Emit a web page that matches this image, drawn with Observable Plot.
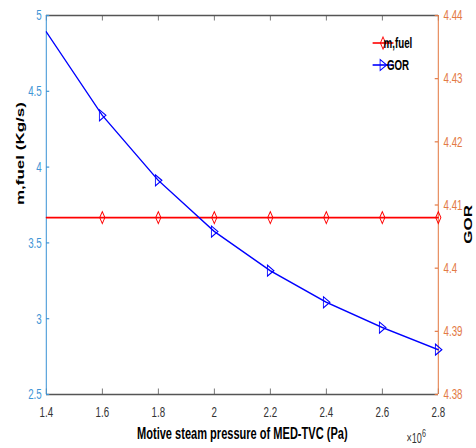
<!DOCTYPE html>
<html>
<head>
<meta charset="utf-8">
<script src="https://cdn.jsdelivr.net/npm/d3@7"></script>
<script src="https://cdn.jsdelivr.net/npm/@observablehq/plot@0.6"></script>
<style>
  html, body { margin: 0; padding: 0; background: #fff; overflow: hidden; }
  #wrap { width: 476px; height: 448px; overflow: hidden; position: relative; }
  #wrap svg { transform-origin: 0 0; display: block; max-width: none !important; }
</style>
</head>
<body>
<div id="wrap"></div>
<script>
// ---- data ----
const pressure = [1.4, 1.6, 1.8, 2.0, 2.2, 2.4, 2.6, 2.8];           // x 10^6 Pa
const mFuel    = [3.667, 3.667, 3.667, 3.667, 3.667, 3.667, 3.667, 3.667]; // left axis
const gor      = [4.4374, 4.4242, 4.4139, 4.4058, 4.3996, 4.3946, 4.3906, 4.3871]; // right axis
const xTicks     = [1.4, 1.6, 1.8, 2.0, 2.2, 2.4, 2.6, 2.8];
const leftTicks  = [2.5, 3, 3.5, 4, 4.5, 5];
const rightTicks = [4.38, 4.39, 4.40, 4.41, 4.42, 4.43, 4.44];
const seriesNames = ["m,fuel", "GOR"];
const xLabel = "Motive steam pressure of MED-TVC (Pa)";
const yLabelLeft = "m,fuel (Kg/s)";
const yLabelRight = "GOR";

// ---- layout ----
const S = 0.6503;              // horizontal compression of the reference
const W = 732, H = 448;
const mL = 70.7, mR = 58.5, mT = 15, mB = 54;
const innerW = W - mL - mR, innerH = H - mT - mB;

const leftDom = [2.5, 5], rightDom = [4.38, 4.44];
const toLeft = g => leftDom[0] + (g - rightDom[0]) * (leftDom[1] - leftDom[0]) / (rightDom[1] - rightDom[0]);
const fromLeft = v => rightDom[0] + (v - leftDom[0]) * (rightDom[1] - rightDom[0]) / (leftDom[1] - leftDom[0]);

const RED = "#FF0000", BLUE = "#0000FF";
const AX_BLUE = "#3F95D6", AX_ORANGE = "#E37A45", AX_GRAY = "#555555";
const FONT = "'Liberation Sans', Arial, Helvetica, sans-serif";

const rows = pressure.map((p, i) => ({p, m: mFuel[i], g: gor[i]}));
const markerRows = rows.slice(1);

const diamond = {draw(ctx) { ctx.moveTo(0, -6); ctx.lineTo(4, 0); ctx.lineTo(0, 6); ctx.lineTo(-4, 0); ctx.closePath(); }};
const triRight = {draw(ctx) { ctx.moveTo(-4.5, -5.5); ctx.lineTo(5.5, 0); ctx.lineTo(-4.5, 5.5); ctx.closePath(); }};

const svg = Plot.plot({
  width: W, height: H,
  marginLeft: mL, marginRight: mR, marginTop: mT, marginBottom: mB,
  style: {fontFamily: FONT, background: "white", overflow: "visible"},
  x: {domain: [1.4, 2.8]},
  y: {domain: leftDom},
  marks: [
    // frame
    Plot.ruleY([leftDom[1]], {stroke: AX_GRAY, strokeWidth: 1.4}),
    Plot.ruleY([leftDom[0]], {stroke: AX_GRAY, strokeWidth: 1.4}),
    // inward ticks
    Plot.tickX(xTicks, {x: d => d, insetTop: innerH - 5.5, stroke: AX_GRAY, strokeWidth: 1.2}),
    Plot.tickX(xTicks, {x: d => d, insetBottom: innerH - 5.5, stroke: AX_GRAY, strokeWidth: 1.2}),
    Plot.tickY(leftTicks, {y: d => d, insetRight: innerW - 5, stroke: AX_BLUE, strokeWidth: 1.2}),
    Plot.tickY(rightTicks.map(toLeft), {y: d => d, insetLeft: innerW - 5, stroke: AX_ORANGE, strokeWidth: 1.2}),
    // left / right axis lines
    Plot.ruleX([1.4], {stroke: AX_BLUE, strokeWidth: 1.6}),
    Plot.ruleX([2.8], {stroke: AX_ORANGE, strokeWidth: 1.6}),
    // tick labels
    Plot.axisX({ticks: xTicks, tickSize: 0, tickPadding: 12, fontSize: 15, color: "#333", label: null,
                tickFormat: d => String(+d.toFixed(1))}),
    Plot.axisY({anchor: "left", ticks: leftTicks, tickSize: 0, tickPadding: 7, fontSize: 15, color: AX_BLUE, label: null,
                tickFormat: d => String(d)}),
    Plot.axisY({anchor: "right", ticks: rightTicks.map(toLeft), tickSize: 0, tickPadding: 8, fontSize: 15, color: AX_ORANGE, label: null,
                tickFormat: d => String(+fromLeft(d).toFixed(2))}),
    // series
    Plot.line(rows, {x: "p", y: "m", stroke: RED, strokeWidth: 1.6}),
    Plot.line(rows, {x: "p", y: d => toLeft(d.g), stroke: BLUE, strokeWidth: 1.6}),
    Plot.dot(markerRows, {x: "p", y: "m", symbol: diamond, stroke: RED, fill: "none", strokeWidth: 1.3}),
    Plot.dot(markerRows, {x: "p", y: d => toLeft(d.g), symbol: triRight, stroke: BLUE, fill: "none", strokeWidth: 1.3}),
    // axis titles
    Plot.text([yLabelLeft], {frameAnchor: "left", rotate: -90, dx: -40, fontSize: 17, fontWeight: "bold", fill: "black"}),
    Plot.text([yLabelRight], {frameAnchor: "right", rotate: -90, dx: 46, fontSize: 17, fontWeight: "bold", fill: "black"}),
    Plot.text([xLabel], {frameAnchor: "bottom", lineAnchor: "bottom", dy: 44, fontSize: 17, fontWeight: "bold", fill: "black"})
  ]
});

svg.style.maxWidth = "none";
svg.style.width = W + "px";
svg.style.height = H + "px";
svg.style.transform = `scaleX(${S})`;
document.getElementById("wrap").appendChild(svg);

// legend and exponent label
const g = d3.select(svg).append("g").attr("font-family", FONT);
const legendItems = [
  {name: seriesNames[0], color: RED, sym: diamond, y: 43},
  {name: seriesNames[1], color: BLUE, sym: triRight, y: 65}
];
legendItems.forEach(it => {
  g.append("line").attr("x1", 573).attr("x2", 605).attr("y1", it.y).attr("y2", it.y)
    .attr("stroke", it.color).attr("stroke-width", 1.6);
  const path = d3.path(); it.sym.draw(path);
  g.append("path").attr("d", path.toString()).attr("transform", `translate(589,${it.y})`)
    .attr("fill", "none").attr("stroke", it.color).attr("stroke-width", 1.3);
  g.append("text").attr("x", 612).attr("y", it.y + 5.5).attr("font-size", 15).attr("font-weight", "bold")
    .attr("fill", "black").text(it.name);
});
const ex = g.append("text").attr("x", 640).attr("y", 443).attr("font-size", 14).attr("fill", "#333");
ex.append("tspan").text("×10");
ex.append("tspan").attr("dy", -6).attr("font-size", 11).text("6");
</script>
</body>
</html>
